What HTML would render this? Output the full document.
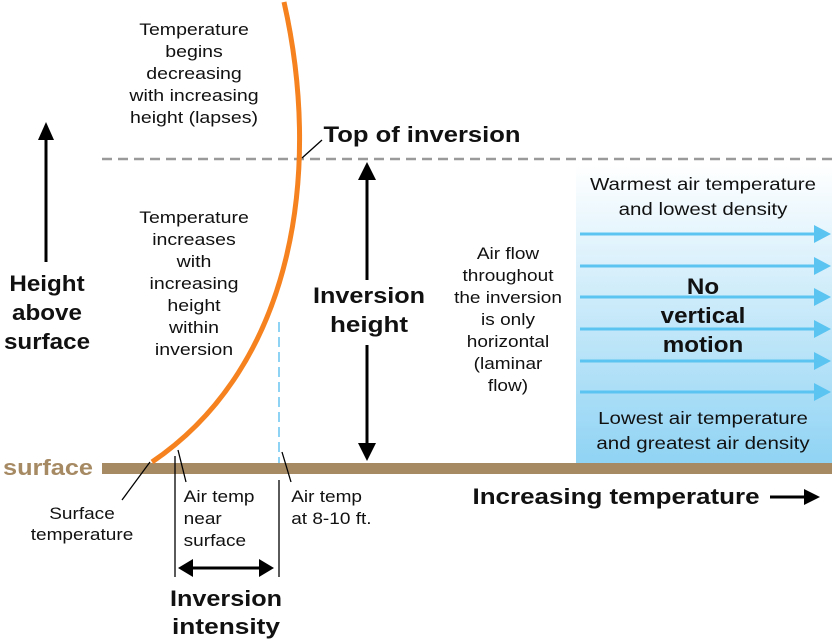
<!DOCTYPE html>
<html><head><meta charset="utf-8"><style>
body{margin:0;background:#fff}
svg text{font-family:"Liberation Sans",sans-serif;fill:#111}
</style></head><body>
<svg width="834" height="639" viewBox="0 0 834 639" xmlns="http://www.w3.org/2000/svg">
<defs>
<linearGradient id="g" x1="0" y1="0" x2="0" y2="1">
<stop offset="0" stop-color="#ffffff"/><stop offset="1" stop-color="#8fd3f4"/>
</linearGradient>
</defs>
<rect x="576" y="165" width="256" height="300" fill="url(#g)"/>
<line x1="102" y1="159" x2="834" y2="159" stroke="#9a9a9a" stroke-width="2.5" stroke-dasharray="10,6"/>
<rect x="102" y="463" width="730" height="11" fill="#a68a64"/>
<line x1="279" y1="322" x2="279" y2="463" stroke="#8fd3f4" stroke-width="2" stroke-dasharray="10,5"/>
<path d="M284 2 C 322 170, 295 365, 152 462" fill="none" stroke="#f5821f" stroke-width="5"/>
<g stroke="#5bc4f1" stroke-width="3" fill="#5bc4f1">
<line x1="580" y1="234" x2="815" y2="234"/><polygon points="814,225 831,234 814,243" stroke="none"/>
<line x1="580" y1="266" x2="815" y2="266"/><polygon points="814,257 831,266 814,275" stroke="none"/>
<line x1="580" y1="297" x2="815" y2="297"/><polygon points="814,288 831,297 814,306" stroke="none"/>
<line x1="580" y1="329" x2="815" y2="329"/><polygon points="814,320 831,329 814,338" stroke="none"/>
<line x1="580" y1="361" x2="815" y2="361"/><polygon points="814,352 831,361 814,370" stroke="none"/>
<line x1="580" y1="392" x2="815" y2="392"/><polygon points="814,383 831,392 814,401" stroke="none"/>
</g>
<g stroke="#000" stroke-width="3" fill="#000">
<line x1="46" y1="135" x2="46" y2="262"/><polygon points="38,140 46,122 54,140" stroke="none"/>
<line x1="367" y1="175" x2="367" y2="280"/><polygon points="358,180 367,162 376,180" stroke="none"/>
<line x1="367" y1="345" x2="367" y2="448"/><polygon points="358,443 367,461 376,443" stroke="none"/>
<line x1="190" y1="568" x2="262" y2="568"/><polygon points="193,559 178,568 193,577" stroke="none"/><polygon points="259,559 274,568 259,577" stroke="none"/>
<line x1="770" y1="497" x2="808" y2="497"/><polygon points="804,489 820,497 804,505" stroke="none"/>
</g>
<g stroke="#000" stroke-width="1.3">
<line x1="302" y1="158" x2="322" y2="140"/>
<line x1="150" y1="462" x2="122" y2="500"/>
<line x1="178" y1="450" x2="186" y2="482"/>
<line x1="175" y1="456" x2="175" y2="577"/>
<line x1="282" y1="452" x2="291" y2="482"/>
<line x1="279" y1="480" x2="279" y2="577"/>
</g>
<g font-size="17" text-anchor="middle">
<g transform="translate(194,0) scale(1.15,1)">
<text x="0" y="35">Temperature</text><text x="0" y="57">begins</text><text x="0" y="79">decreasing</text><text x="0" y="101">with increasing</text><text x="0" y="123">height (lapses)</text>
<text x="0" y="223">Temperature</text><text x="0" y="245">increases</text><text x="0" y="267">with</text><text x="0" y="289">increasing</text><text x="0" y="311">height</text><text x="0" y="333">within</text><text x="0" y="355">inversion</text>
</g>
<g transform="translate(508,0) scale(1.12,1)">
<text x="0" y="259">Air flow</text><text x="0" y="281">throughout</text><text x="0" y="303">the inversion</text><text x="0" y="325">is only</text><text x="0" y="347">horizontal</text><text x="0" y="369">(laminar</text><text x="0" y="391">flow)</text>
</g>
<g transform="translate(703,0) scale(1.14,1)" font-size="18">
<text x="0" y="190">Warmest air temperature</text><text x="0" y="215">and lowest density</text>
<text x="0" y="424">Lowest air temperature</text><text x="0" y="449">and greatest air density</text>
</g>
<g transform="translate(82,0) scale(1.12,1)">
<text x="0" y="519">Surface</text><text x="0" y="540">temperature</text>
</g>
</g>
<g font-size="17" transform="scale(1.12,1)">
<text x="164" y="502">Air temp</text><text x="164" y="524">near</text><text x="164" y="546">surface</text>
<text x="260" y="502">Air temp</text><text x="260" y="524">at 8-10 ft.</text>
</g>
<g font-weight="bold" font-size="22" text-anchor="middle">
<g transform="translate(47,0) scale(1.1,1)"><text x="0" y="291">Height</text><text x="0" y="320">above</text><text x="0" y="349">surface</text></g>
<text x="422" y="142" textLength="197" lengthAdjust="spacingAndGlyphs">Top of inversion</text>
<text x="369" y="303" textLength="112" lengthAdjust="spacingAndGlyphs">Inversion</text><text x="369" y="332" textLength="78" lengthAdjust="spacingAndGlyphs">height</text>
<g transform="translate(703,0) scale(1.1,1)"><text x="0" y="294">No</text><text x="0" y="323">vertical</text><text x="0" y="352">motion</text></g>
<text x="226" y="606" textLength="112" lengthAdjust="spacingAndGlyphs">Inversion</text><text x="226" y="634" textLength="108" lengthAdjust="spacingAndGlyphs">intensity</text>
<text x="616" y="504" textLength="287" lengthAdjust="spacingAndGlyphs">Increasing temperature</text>
<text x="48" y="475" textLength="90" lengthAdjust="spacingAndGlyphs" style="fill:#a68a64">surface</text>
</g>
</svg>
</body></html>
